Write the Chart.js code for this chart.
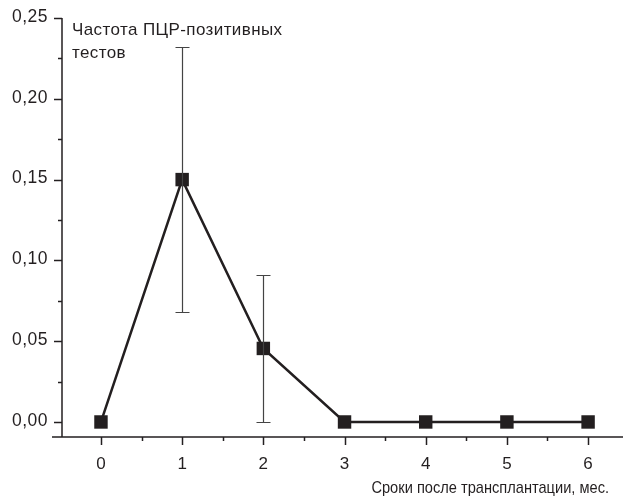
<!DOCTYPE html>
<html><head><meta charset="utf-8">
<script src="https://cdn.jsdelivr.net/npm/chart.js@4"></script>
<style>html,body{margin:0;padding:0;background:#fff}#wrap{width:623px;height:499px;position:relative}</style>
</head><body><div id="wrap"><canvas id="c" width="623" height="499"></canvas></div>
<script>
const categories = [0, 1, 2, 3, 4, 5, 6];
const values = [0, 0.15, 0.0455, 0, 0, 0, 0];
const errHigh = [null, 0.232, 0.091, null, null, null, null];
const errLow = [null, 0.068, 0.0, null, null, null, null];
const yTickValues = [0, 0.05, 0.10, 0.15, 0.20, 0.25];
const yTickLabels = ['0,00', '0,05', '0,10', '0,15', '0,20', '0,25'];
const xTickLabels = ['0', '1', '2', '3', '4', '5', '6'];
const yTitleLines = ['Частота ПЦР-позитивных', 'тестов'];
const xTitle = 'Сроки после трансплантации, мес.';

const INK = '#231f20';
const FONT = '"Liberation Sans", Arial, sans-serif';

const deco = {
  id: 'deco',
  afterDatasetsDraw(chart) {
    const ctx = chart.ctx, x = chart.scales.x, y = chart.scales.y, a = chart.chartArea;
    ctx.save();
    ctx.strokeStyle = INK;
    ctx.lineWidth = 1.5;
    ctx.beginPath();
    ctx.moveTo(a.left, a.top); ctx.lineTo(a.left, a.bottom);
    ctx.moveTo(a.left - 10, a.bottom); ctx.lineTo(a.right, a.bottom);
    ctx.stroke();
    for (let v = 0; v <= 0.2501; v += 0.025) {
      const major = Math.round(v / 0.025) % 2 === 0;
      const py = Math.round(y.getPixelForValue(v)) + 0.5;
      ctx.beginPath();
      ctx.moveTo(a.left - (major ? 8 : 4), py); ctx.lineTo(a.left, py); ctx.stroke();
    }
    for (let v = -0.5; v <= 6.01; v += 0.5) {
      const major = Math.abs(v - Math.round(v)) < 1e-6;
      const px = Math.round(x.getPixelForValue(v)) + 0.5;
      if (px < a.left - 1) continue;
      ctx.beginPath();
      ctx.moveTo(px, a.bottom); ctx.lineTo(px, a.bottom + (major ? 8 : 4)); ctx.stroke();
    }
    ctx.lineWidth = 1.2;
    ctx.strokeStyle = '#444';
    categories.forEach((c, i) => {
      if (errHigh[i] == null) return;
      const px = Math.round(x.getPixelForValue(c)) + 0.5;
      const ph = y.getPixelForValue(errHigh[i]);
      const pl = y.getPixelForValue(errLow[i]);
      ctx.beginPath();
      ctx.moveTo(px, ph); ctx.lineTo(px, pl);
      ctx.moveTo(px - 7, Math.round(ph) + 0.5); ctx.lineTo(px + 7, Math.round(ph) + 0.5);
      ctx.moveTo(px - 7, Math.round(pl) + 0.5); ctx.lineTo(px + 7, Math.round(pl) + 0.5);
      ctx.stroke();
    });
    ctx.fillStyle = INK;
    ctx.font = '17.5px ' + FONT;
    ctx.letterSpacing = '0.5px';
    ctx.textAlign = 'right'; ctx.textBaseline = 'middle';
    yTickValues.forEach((v, i) => ctx.fillText(yTickLabels[i], a.left - 14, y.getPixelForValue(v) - 1));
    ctx.letterSpacing = '0px';
    ctx.font = '17px ' + FONT;
    ctx.textAlign = 'center'; ctx.textBaseline = 'top';
    categories.forEach((c, i) => ctx.fillText(xTickLabels[i], x.getPixelForValue(c), a.bottom + 19));
    ctx.font = '17px ' + FONT;
    ctx.letterSpacing = '0.4px';
    ctx.textAlign = 'left'; ctx.textBaseline = 'middle';
    ctx.fillText(yTitleLines[0], a.left + 10, 30);
    ctx.fillText(yTitleLines[1], a.left + 10, 53);
    ctx.letterSpacing = '0px';
    ctx.save();
    ctx.font = '17px ' + FONT;
    ctx.textAlign = 'right';
    ctx.translate(609, 488);
    ctx.scale(0.86, 1);
    ctx.fillText(xTitle, 0, 0);
    ctx.restore();
    ctx.restore();
  }
};

new Chart(document.getElementById('c'), {
  type: 'line',
  data: {
    datasets: [{
      data: categories.map((c, i) => ({ x: c, y: values[i] })),
      borderColor: INK,
      backgroundColor: INK,
      borderWidth: 2.5,
      pointStyle: 'rect',
      pointRadius: 9.5,
      pointHoverRadius: 9.5,
      pointBorderWidth: 0,
      tension: 0
    }]
  },
  options: {
    responsive: false,
    animation: false,
    events: [],
    layout: { autoPadding: false, padding: { top: 18, right: 0, left: 0, bottom: 0 } },
    plugins: { legend: { display: false }, tooltip: { enabled: false } },
    scales: {
      x: {
        type: 'linear', min: -0.48, max: 6.43,
        grid: { display: false }, border: { display: false },
        ticks: { display: false },
        afterFit(s) { s.height = 62; }
      },
      y: {
        min: -0.0093, max: 0.25,
        grid: { display: false }, border: { display: false },
        ticks: { display: false },
        afterFit(s) { s.width = 62; }
      }
    }
  },
  plugins: [deco]
});
</script>
</body></html>
